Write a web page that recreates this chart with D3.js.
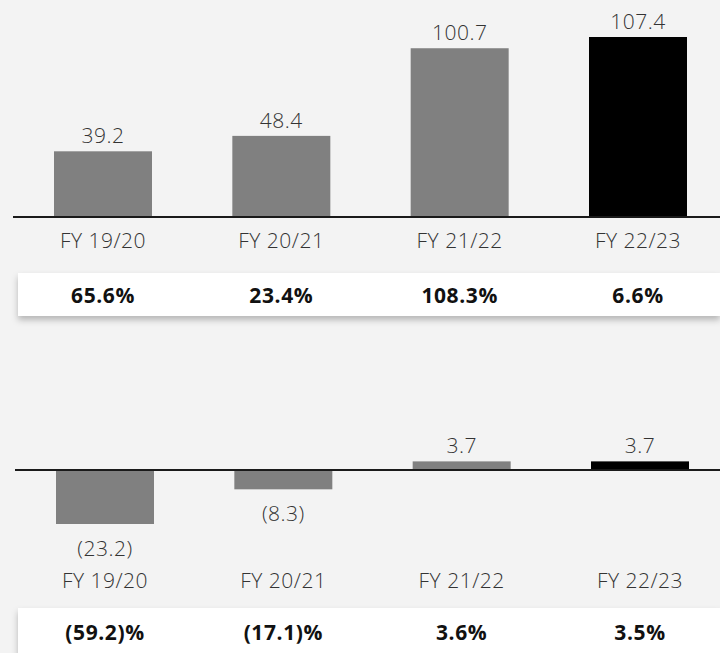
<!DOCTYPE html>
<html>
<head>
<meta charset="utf-8">
<script src="https://cdn.jsdelivr.net/npm/d3@7"></script>
<style>
  html, body { margin: 0; padding: 0; background: #f3f3f3; }
  svg { display: block; }
</style>
</head>
<body>
<script>
// ---- data ----
const categories = ["FY 19/20", "FY 20/21", "FY 21/22", "FY 22/23"];
const revenueValues = [39.2, 48.4, 100.7, 107.4];
const revenueLabels = ["39.2", "48.4", "100.7", "107.4"];
const revenueGrowth = ["65.6%", "23.4%", "108.3%", "6.6%"];
const profitValues = [-23.2, -8.3, 3.7, 3.7];
const profitLabels = ["(23.2)", "(8.3)", "3.7", "3.7"];
const profitMargin = ["(59.2)%", "(17.1)%", "3.6%", "3.5%"];
const barColors = ["#808080", "#808080", "#808080", "#000000"];

const W = 720, H = 653;
const LIGHT = "'Open Sans', sans-serif";
const BOLD = "'Open Sans', sans-serif";

const svg = d3.select("body").append("svg").attr("width", W).attr("height", H);

const defs = svg.append("defs");
const f = defs.append("filter").attr("id", "shadow").attr("x", "-5%").attr("y", "-30%").attr("width", "110%").attr("height", "180%");
f.append("feDropShadow").attr("dx", 0).attr("dy", 4).attr("stdDeviation", 3).attr("flood-color", "#000").attr("flood-opacity", 0.25);

svg.append("rect").attr("width", W).attr("height", H).attr("fill", "#f3f3f3");

function panel(opts) {
  const g = svg.append("g");
  const x = d3.scalePoint().domain(categories).range(opts.xRange);
  const bw = 98;
  const y = d3.scaleLinear().domain(opts.yDomain).range(opts.yRange);
  const y0 = y(0);

  g.append("rect")
    .attr("x", 18).attr("y", opts.boxY).attr("width", W - 18).attr("height", opts.boxH)
    .attr("fill", "#ffffff").attr("filter", "url(#shadow)");

  g.selectAll("rect.bar").data(opts.values).join("rect")
    .attr("class", "bar")
    .attr("x", (d, i) => x(categories[i]) - bw / 2)
    .attr("width", bw)
    .attr("y", d => Math.min(y(d), y0))
    .attr("height", d => Math.abs(y(d) - y0))
    .attr("fill", (d, i) => barColors[i]);

  g.append("line")
    .attr("x1", opts.lineX1).attr("x2", W)
    .attr("y1", y0).attr("y2", y0)
    .attr("stroke", "#1a1a1a").attr("stroke-width", 2);

  g.selectAll("text.val").data(opts.values).join("text")
    .attr("class", "val")
    .attr("x", (d, i) => x(categories[i]))
    .attr("y", d => d >= 0 ? y(d) - 8 : y(d) + 32)
    .attr("text-anchor", "middle")
    .attr("font-family", LIGHT).attr("font-weight", 300).attr("font-size", 21)
    .attr("letter-spacing", 0.5)
    .attr("fill", "#333")
    .text((d, i) => opts.labels[i]);

  g.selectAll("text.cat").data(categories).join("text")
    .attr("class", "cat")
    .attr("x", d => x(d))
    .attr("y", opts.catY)
    .attr("text-anchor", "middle")
    .attr("font-family", LIGHT).attr("font-weight", 300).attr("font-size", 21)
    .attr("letter-spacing", 0.5)
    .attr("fill", "#333")
    .text(d => d);

  g.selectAll("text.pct").data(opts.pcts).join("text")
    .attr("class", "pct")
    .attr("x", (d, i) => x(categories[i]))
    .attr("y", opts.pctY)
    .attr("text-anchor", "middle")
    .attr("font-family", BOLD).attr("font-weight", 700).attr("font-size", 21)
    .attr("letter-spacing", 0.6)
    .attr("fill", "#111")
    .text(d => d);
}

panel({
  values: revenueValues, labels: revenueLabels, pcts: revenueGrowth,
  xRange: [103, 638], yDomain: [0, 107.4], yRange: [217, 37],
  lineX1: 13, catY: 248, boxY: 273, boxH: 43, pctY: 303
});

panel({
  values: profitValues, labels: profitLabels, pcts: profitMargin,
  xRange: [105, 640], yDomain: [-23.2, 0], yRange: [524, 470],
  lineX1: 15, catY: 588, boxY: 608, boxH: 50, pctY: 640
});
</script>
</body>
</html>
